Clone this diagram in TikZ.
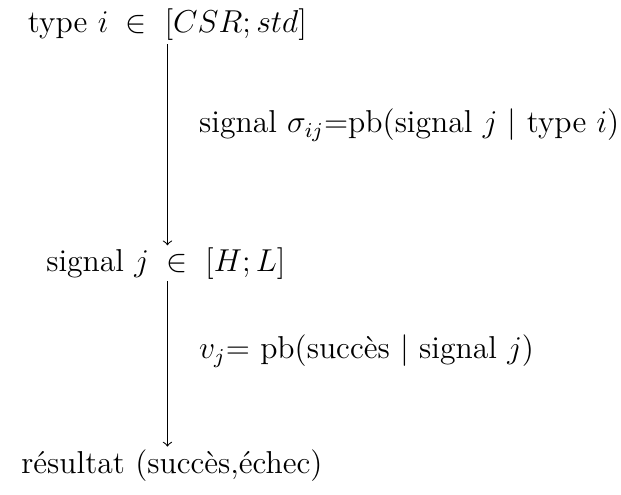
\documentclass[tikz,border=0pt]{standalone}
\usepackage{amsmath, amssymb}
\usepackage{tikz}
\usetikzlibrary{positioning}

\begin{document}
\begin{tikzpicture}[every node/.style={anchor=base, font=\large}]
  \useasboundingbox (0,0) rectangle (8.27,-6.58);

  % Levels
  \node (type) at (2.23,-0.43) {type $i \;\in\; [CSR;std]$};
  \node (signal) at (2.21,-3.62) {signal $j \;\in\; [H;L]$};
  \node (result) at (2.29,-6.30) {résultat (succès,échec)};

  % Arrows with probabilities
  \draw[->, shorten <=-2pt, shorten >=-2.5pt] (type.south) -- (type.south |- signal.north)
    node[pos=0.40, anchor=west, xshift=8.5pt] (sigma)
    {signal $\sigma_{ij}$=pb(signal $j$ $|$ type $i$)};
  \draw[->, shorten <=-3pt, shorten >=-2.5pt] (signal.south -| type.south) -- (type.south |- result.north)
    node[pos=0.41, anchor=west, xshift=8.5pt] (vj)
    {$v_j$= pb(succès $|$ signal $j$)};
\end{tikzpicture}
\end{document}
